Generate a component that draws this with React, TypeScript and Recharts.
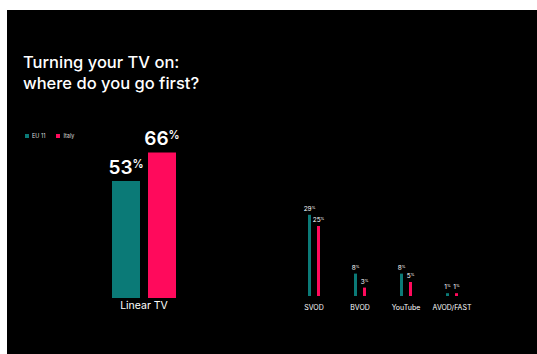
import React from 'react';
import { BarChart, Bar, XAxis, YAxis, LabelList, Legend } from 'recharts';

const TEAL = '#0b7a77';
const PINK = '#ff0a5c';
const FONT = 'Inter, "Noto Sans", sans-serif';

// left panel: linear TV
const linearCategories = ['Linear TV'];
const linearEU = [53];
const linearItaly = [66];

// right panel: streaming services
const otherCategories = ['SVOD', 'BVOD', 'YouTube', 'AVOD/FAST'];
const otherEU = [29, 8, 8, 1];
const otherItaly = [25, 3, 5, 1];

const seriesNames = ['EU 11', 'Italy'];

const linearData = linearCategories.map((name, i) => ({ name, eu: linearEU[i], italy: linearItaly[i] }));
const otherData = otherCategories.map((name, i) => ({ name, eu: otherEU[i], italy: otherItaly[i] }));

const makeLabel = (fontSize: number, gap: number, weight: number) => (props: any) => {
    const { x, y, width, value } = props;
    return (
        <text
            x={Number(x) + Number(width) / 2}
            y={Number(y) - gap}
            textAnchor="middle"
            fill="#fff"
            fontSize={fontSize}
            fontWeight={weight}
            fontFamily={FONT}
        >
            {value}
            <tspan fontSize={fontSize * 0.58} dy={-fontSize * 0.32}>%</tspan>
        </text>
    );
};

const LegendContent = () => (
    <div style={{ display: 'flex', alignItems: 'center', fontFamily: FONT, fontSize: 5.5, color: '#ddd' }}>
        {seriesNames.map((n, i) => (
            <div key={n} style={{ display: 'flex', alignItems: 'center', marginRight: 11 }}>
                <span style={{ width: 4, height: 4, background: i === 0 ? TEAL : PINK, marginRight: 3, display: 'inline-block' }} />
                <span>{n}</span>
            </div>
        ))}
    </div>
);

export default function App() {
    return (
        <div style={{ position: 'fixed', left: 7, top: 10, width: 530, height: 344, background: '#000', overflow: 'hidden' }}>
            <div style={{ position: 'absolute', left: 16, top: 42, color: '#fff', fontFamily: FONT, fontSize: 16.5, fontWeight: 500, lineHeight: '21px' }}>
                Turning your TV on:<br />where do you go first?
            </div>

            <div style={{ position: 'absolute', left: 0, top: 0 }}>
                <BarChart width={200} height={320} data={linearData} margin={{ top: 138, right: 26, bottom: 0, left: 100 }} barSize={28} barGap={8}>
                    <XAxis dataKey="name" axisLine={false} tickLine={false} tickSize={0} tickMargin={4} height={32}
                        tick={{ fill: '#fff', fontSize: 10.5, fontFamily: FONT }} interval={0} />
                    <YAxis hide domain={[0, 68]} />
                    <Legend layout="horizontal" verticalAlign="middle" align="center" content={<LegendContent />}
                        wrapperStyle={{ left: 18, top: 123, width: 'auto', height: 'auto' }} />
                    <Bar dataKey="eu" name={seriesNames[0]} fill={TEAL} isAnimationActive={false}>
                        <LabelList dataKey="eu" content={makeLabel(19, 7, 600)} />
                    </Bar>
                    <Bar dataKey="italy" name={seriesNames[1]} fill={PINK} isAnimationActive={false}>
                        <LabelList dataKey="italy" content={makeLabel(19, 7, 600)} />
                    </Bar>
                </BarChart>
            </div>

            <div style={{ position: 'absolute', left: 284, top: 0 }}>
                <BarChart width={184} height={320} data={otherData} margin={{ top: 202, right: 0, bottom: 0, left: 0 }} barSize={3} barGap={6}>
                    <XAxis dataKey="name" axisLine={false} tickLine={false} tickSize={0} tickMargin={9} height={34}
                        tick={{ fill: '#fff', fontSize: 7, fontFamily: FONT }} interval={0} />
                    <YAxis hide domain={[0, 30]} />
                    <Bar dataKey="eu" fill={TEAL} isAnimationActive={false}>
                        <LabelList dataKey="eu" content={makeLabel(6.5, 4, 400)} />
                    </Bar>
                    <Bar dataKey="italy" fill={PINK} isAnimationActive={false}>
                        <LabelList dataKey="italy" content={makeLabel(6.5, 4, 400)} />
                    </Bar>
                </BarChart>
            </div>
        </div>
    );
}
